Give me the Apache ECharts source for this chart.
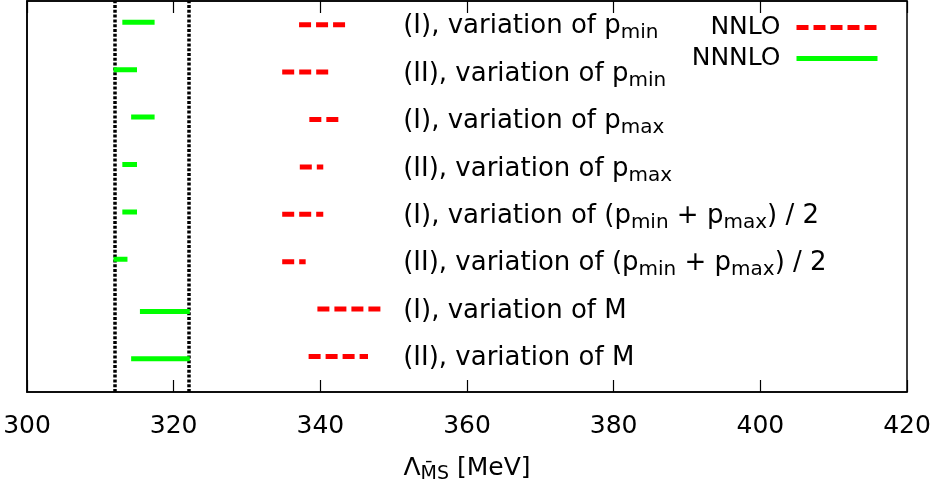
<!DOCTYPE html>
<html>
<head>
<meta charset="utf-8">
<script src="https://cdn.jsdelivr.net/npm/echarts@6/dist/echarts.min.js"></script>
<style>html,body{margin:0;padding:0;background:#fff}#c{width:936px;height:488px}</style>
</head>
<body>
<div id="c"></div>
<script>
// ---- data ----
const rowLabels = [
  '(I), variation of p{s|min}',
  '(II), variation of p{s|min}',
  '(I), variation of p{s|max}',
  '(II), variation of p{s|max}',
  '(I), variation of (p{s|min} + p{s|max}) / 2',
  '(II), variation of (p{s|min} + p{s|max}) / 2',
  '(I), variation of M',
  '(II), variation of M'
];
const rowY = [8, 7, 6, 5, 4, 3, 2, 1];
const nnloLow  = [337.1, 334.8, 338.5, 337.2, 334.8, 334.8, 339.6, 338.4];
const nnloHigh = [343.7, 341.2, 342.6, 340.4, 340.4, 338.0, 348.5, 346.5];
const nnnloLow  = [313.0, 311.8, 314.2, 313.0, 313.0, 311.8, 315.4, 314.2];
const nnnloHigh = [317.4, 315.0, 317.4, 315.0, 315.0, 313.7, 322.2, 322.2];
const nnnloYShift = [0.05, 0.05, 0.05, 0.05, 0.05, 0.05, -0.05, -0.05];
const refLines = [312, 322];
const labelX = 351.3;
const xTicks = [300, 320, 340, 360, 380, 400, 420];
const legendNames = ['NNLO', 'NNNLO'];

// ---- chart ----
const FONT = 'DejaVu Sans';
const BLACK = '#000000';
const RED = '#ff0000';
const GREEN = '#00ff00';
const chart = echarts.init(document.getElementById('c'), null, {renderer: 'canvas'});
const series = [];
rowY.forEach((y, i) => {
  const s = {
    name: legendNames[0], type: 'line', symbol: 'none', silent: true, z: 3,
    data: [[nnloLow[i], y], [nnloHigh[i], y]],
    lineStyle: {color: RED, width: 5, type: [12, 5], cap: 'butt'},
    itemStyle: {color: RED}
  };
  if (i === 0) {
    s.markLine = {
      silent: true, symbol: 'none', z: 2,
      label: {show: false},
      lineStyle: {color: BLACK, width: 3.5, type: [3, 1.8]},
      data: refLines.map(v => ({xAxis: v}))
    };
  }
  series.push(s);
});
rowY.forEach((y, i) => {
  series.push({
    name: legendNames[1], type: 'line', symbol: 'none', silent: true, z: 5,
    data: [[nnnloLow[i], y + nnnloYShift[i]], [nnnloHigh[i], y + nnnloYShift[i]]],
    lineStyle: {color: GREEN, width: 5, type: 'solid', cap: 'butt'},
    itemStyle: {color: GREEN}
  });
});
const subStyle = {fontFamily: FONT, fontSize: 20, color: BLACK, padding: [13, 0, 0, 0]};
series.push({
  type: 'scatter', symbolSize: 0, silent: true,
  data: rowY.map((y, i) => ({value: [labelX, y],
    label: {formatter: rowLabels[i], color: BLACK}})),
  label: {
    show: true, position: 'right', distance: 0, offset: [0, 2],
    fontFamily: FONT, fontSize: 26, color: BLACK, opacity: 1, textBorderWidth: 0,
    rich: {s: subStyle}
  }
});

const option = {
  animation: false,
  backgroundColor: '#fff',
  textStyle: {color: BLACK},
  grid: {left: 27, right: 29, top: 1, bottom: 96, show: true, borderColor: BLACK, borderWidth: 1.5,
    outerBoundsMode: 'none', containLabel: false},
  legend: {
    data: [
      {name: legendNames[0], lineStyle: {color: RED, width: 5, type: [12, 5], cap: 'butt'}},
      {name: legendNames[1], lineStyle: {color: GREEN, width: 5, type: 'solid', cap: 'butt'}}
    ],
    orient: 'vertical', right: 51, top: 10,
    itemWidth: 81, itemHeight: 14, itemGap: 6, align: 'right',
    itemStyle: {opacity: 0},
    textStyle: {fontFamily: FONT, fontSize: 25, color: BLACK, padding: [0, 11, 0, 0]},
    selectedMode: false
  },
  xAxis: [{
    type: 'value', min: xTicks[0], max: xTicks[xTicks.length - 1], interval: 20, position: 'bottom',
    axisLine: {show: true, lineStyle: {color: BLACK, width: 1.5}},
    axisTick: {show: true, inside: true, length: 12, lineStyle: {color: BLACK, width: 1.2}},
    axisLabel: {margin: 22, fontFamily: FONT, fontSize: 25, color: BLACK},
    splitLine: {show: false},
    name: 'Λ{s|M\u0304S} [MeV]', nameLocation: 'middle', nameGap: 60,
    nameTextStyle: {fontFamily: FONT, fontSize: 25, color: BLACK,
      rich: {s: {fontFamily: FONT, fontSize: 19, color: BLACK, padding: [13, 0, 0, 0]}}}
  }, {
    type: 'value', min: xTicks[0], max: xTicks[xTicks.length - 1], interval: 20, position: 'top',
    axisLine: {show: true, lineStyle: {color: BLACK, width: 1.5}},
    axisTick: {show: true, inside: true, length: 12, lineStyle: {color: BLACK, width: 1.2}},
    axisLabel: {show: false}, splitLine: {show: false}
  }],
  yAxis: {
    type: 'value', min: 0.25, max: 8.5,
    axisLine: {show: true, lineStyle: {color: BLACK, width: 1.5}},
    axisTick: {show: false}, axisLabel: {show: false}, splitLine: {show: false}
  },
  series: series
};
chart.setOption(option);
</script>
</body>
</html>
